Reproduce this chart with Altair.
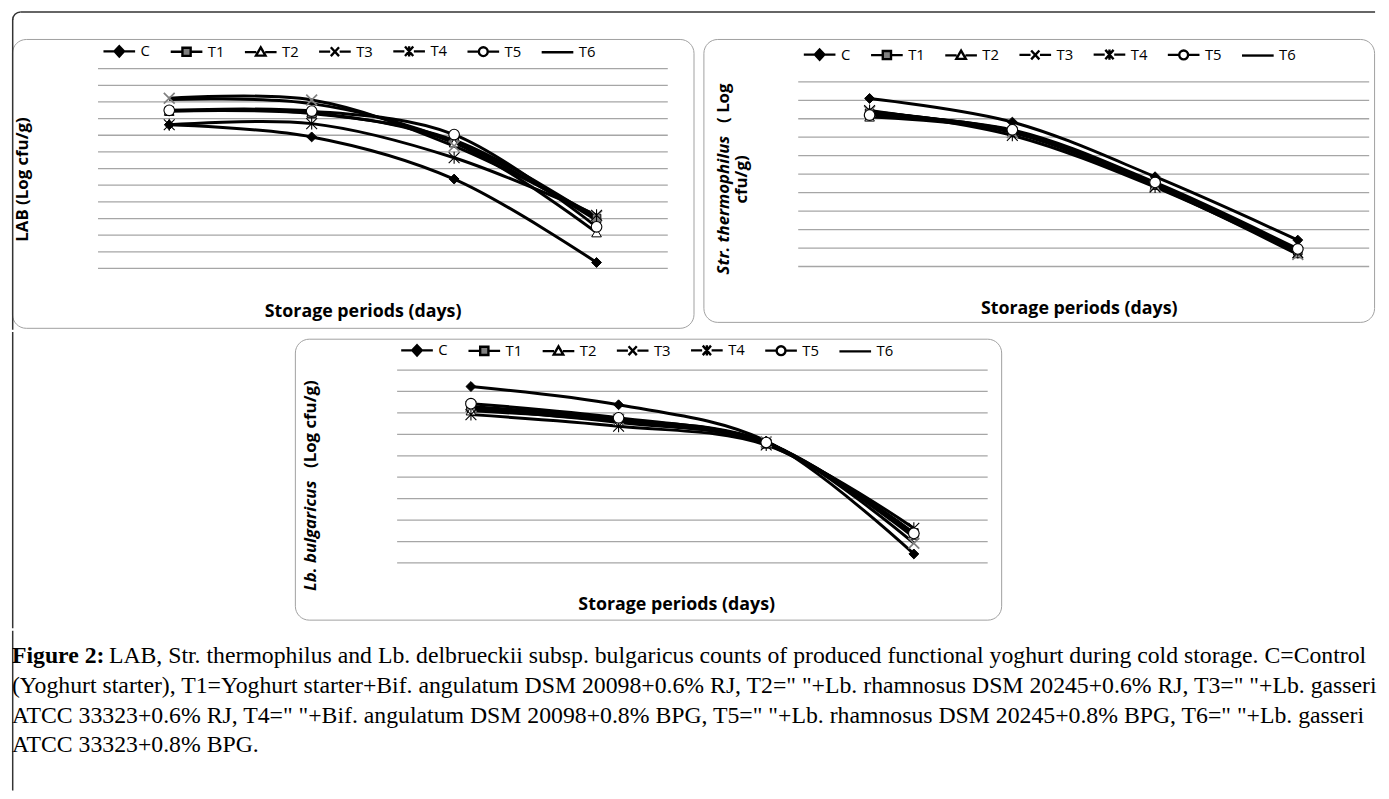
import altair as alt
import pandas as pd

# ---------------- data (gridline units) ----------------
days = [1, 2, 3, 4]                      # storage periods (no tick labels shown)
series = ["C", "T1", "T2", "T3", "T4", "T5", "T6"]

lab_C  = [8.63, 7.90, 5.37, 0.36]
lab_T1 = [9.45, 9.30, 7.70, 3.00]
lab_T2 = [9.45, 9.35, 7.55, 2.15]
lab_T3 = [10.22, 10.12, 7.35, 3.15]
lab_T4 = [8.63, 8.70, 6.65, 3.20]
lab_T5 = [9.50, 9.45, 8.04, 2.50]
lab_T6 = [10.15, 9.90, 7.60, 2.90]

sth_C  = [9.10, 7.82, 4.86, 1.43]
sth_T1 = [8.30, 7.35, 4.45, 0.85]
sth_T2 = [8.10, 7.30, 4.40, 0.70]
sth_T3 = [8.40, 7.25, 4.35, 0.65]
sth_T4 = [8.45, 7.10, 4.30, 0.75]
sth_T5 = [8.20, 7.40, 4.55, 0.95]
sth_T6 = [8.35, 7.30, 4.40, 0.80]

lbb_C  = [8.23, 7.38, 5.69, 0.42]
lbb_T1 = [7.25, 6.65, 5.60, 1.40]
lbb_T2 = [7.10, 6.60, 5.55, 1.30]
lbb_T3 = [7.30, 6.70, 5.65, 0.92]
lbb_T4 = [6.92, 6.38, 5.50, 1.62]
lbb_T5 = [7.43, 6.77, 5.62, 1.38]
lbb_T6 = [7.20, 6.55, 5.58, 1.20]

lab_grid = list(range(0, 13))
sth_grid = list(range(0, 11))
lbb_grid = list(range(0, 10))

x_title = "Storage periods (days)"
lab_ytitle = "LAB (Log cfu/g)"
sth_ytitle_it = "Str. thermophilus"
sth_ytitle_a = "( Log"
sth_ytitle_b = "cfu/g)"
lbb_ytitle_it = "Lb. bulgaricus"
lbb_ytitle_b = "(Log cfu/g)"

fig_label = "Figure 2:"
caption_lines = [
    "LAB, Str. thermophilus and Lb. delbrueckii subsp. bulgaricus counts of produced functional yoghurt during cold storage. C=Control",
    '(Yoghurt starter), T1=Yoghurt starter+Bif. angulatum DSM 20098+0.6% RJ, T2=" "+Lb. rhamnosus DSM 20245+0.6% RJ, T3=" "+Lb. gasseri',
    'ATCC 33323+0.6% RJ, T4=" "+Bif. angulatum DSM 20098+0.8% BPG, T5=" "+Lb. rhamnosus DSM 20245+0.8% BPG, T6=" "+Lb. gasseri',
    "ATCC 33323+0.8% BPG.",
]

# ---------------- styles ----------------
FONT = "Open Sans"
SERIF = "Liberation Serif"
CAP_SIZE = 24
GRID = "#a6a6a6"
BOX = "#a0a0a0"
FRAME = "#333333"
TOTAL_W = 1377

XPATH = "M-1,-1L1,1M-1,1L1,-1"
STARPATH = "M-1,-1L1,1M-1,1L1,-1M0,-1.1L0,1.1"
CORNER = "M-1,1A2,2 0 0 1 1,-1"
MARK = {
    "C":  dict(shape="diamond", filled=True, fill="black", stroke="black", strokeWidth=1, size=100),
    "T1": dict(shape="square", filled=True, fill="#7f7f7f", stroke="black", strokeWidth=1, size=75),
    "T2": dict(shape="triangle-up", filled=True, fill="white", stroke="black", strokeWidth=1, size=95),
    "T3": dict(shape=XPATH, filled=False, stroke="#808080", strokeWidth=1.7, size=120),
    "T4": dict(shape=STARPATH, filled=False, stroke="black", strokeWidth=1.1, size=120),
    "T5": dict(shape="circle", filled=True, fill="white", stroke="black", strokeWidth=1.1, size=115),
    "T6": None,
}
LEG_PATHS = [
    "M-1,0L1,0M0,-0.32L0.3,0L0,0.32L-0.3,0Z",
    "M-1,0L-0.26,0M0.26,0L1,0M-0.26,-0.26L0.26,-0.26L0.26,0.26L-0.26,0.26Z",
    "M-1,0L-0.28,0M0.28,0L1,0M0,-0.3L0.3,0.22L-0.3,0.22Z",
    "M-1,0L-0.3,0M0.3,0L1,0M-0.26,-0.28L0.26,0.28M-0.26,0.28L0.26,-0.28",
    "M-1,0L-0.3,0M0.3,0L1,0M-0.26,-0.3L0.26,0.3M-0.26,0.3L0.26,-0.3M0,-0.32L0,0.32",
    "M-1,0L-0.28,0M0.28,0L1,0M0.28,0A0.28,0.28 0 1,1 -0.28,0A0.28,0.28 0 1,1 0.28,0Z",
    "M-1,0L1,0",
]
LEG_FILLS = ["black", "#7f7f7f", "white", "#cccccc", "white", "white", "black"]
LEG_STROKES = ["black"] * 7

one = pd.DataFrame({"k": [0]})


def vrule(y1, y2):
    # a piece of the outer frame's left edge
    return alt.Chart(one).mark_rule(color=FRAME, strokeWidth=1.5, strokeCap="square").encode(
        x=alt.value(0.75), y=alt.value(y1), y2=alt.value(y2))


def text_layer(t, x, y, angle=0, italic=False, align="center", size=17, weight="bold"):
    return alt.Chart(pd.DataFrame({"t": [t]})).mark_text(
        font=FONT, fontSize=size, fontWeight=weight,
        fontStyle="italic" if italic else "normal",
        angle=angle, align=align, baseline="middle", color="black",
    ).encode(x=alt.value(x), y=alt.value(y), text="t:N")


def frame_top_layers(bottom):
    r = 8
    top = -27.25
    return [
        alt.Chart(one).mark_rule(color=FRAME, strokeWidth=1.5).encode(
            x=alt.value(0.75 + r), x2=alt.value(TOTAL_W + 1), y=alt.value(top)),
        vrule(top + r, bottom),
        alt.Chart(one).mark_point(shape=CORNER, filled=False, stroke=FRAME, strokeWidth=1.5,
                                  size=r * r, opacity=1).encode(
            x=alt.value(0.75 + r / 2), y=alt.value(top + r / 2)),
    ]


def panel(vals, grid, xdom, ydom, w, h, lx, ly, titles, extra=None):
    df = pd.DataFrame([
        {"day": d, "series": s, "value": v}
        for s, arr in zip(series, vals) for d, v in zip(days, arr)
    ])
    xs = alt.Scale(domain=xdom, nice=False, zero=False)
    ys = alt.Scale(domain=ydom, nice=False, zero=False)
    X = alt.X("day:Q", scale=xs, axis=None)
    Y = alt.Y("value:Q", scale=ys, axis=None)

    layers = list(extra or [])
    layers += [
        alt.Chart(pd.DataFrame({"value": grid})).mark_rule(color=GRID, strokeWidth=1.3).encode(
            y=Y,
            x=alt.XDatum(days[0] - 0.5, type="quantitative", scale=xs, axis=None),
            x2=alt.X2Datum(days[-1] + 0.5),
        ),
        alt.Chart(df).mark_line(interpolate="catmull-rom", color="black", strokeWidth=3).encode(
            x=X, y=Y, detail="series:N"
        ),
    ]
    for s in series:
        st = MARK[s]
        if st is None:
            continue
        layers.append(
            alt.Chart(df).transform_filter(alt.datum.series == s)
            .mark_point(opacity=1, **st).encode(x=X, y=Y)
        )
    leg = alt.Legend(
        orient="none", legendX=lx, legendY=ly, direction="horizontal", columns=7,
        title=None, symbolSize=1024, symbolStrokeWidth=2.4, symbolStrokeColor="black",
        labelFont=FONT, labelFontSize=15, labelColor="black", columnPadding=15,
        labelOffset=4, padding=0,
    )
    layers.append(
        alt.Chart(df).transform_filter("false")
        .mark_point(opacity=1, strokeWidth=2.4)
        .encode(
            shape=alt.Shape("series:N", scale=alt.Scale(domain=series, range=LEG_PATHS), legend=leg),
            fill=alt.Fill("series:N", scale=alt.Scale(domain=series, range=LEG_FILLS), legend=leg),
            stroke=alt.Stroke("series:N", scale=alt.Scale(domain=series, range=LEG_STROKES), legend=leg),
        )
    )
    for tl in titles:
        layers.append(text_layer(*tl[:3], **tl[3]))
    return alt.layer(*layers).properties(
        width=w, height=h,
        view=alt.ViewBackground(stroke=BOX, strokeWidth=1, cornerRadius=14, fill="white"),
    )


p1 = panel(
    [lab_C, lab_T1, lab_T2, lab_T3, lab_T4, lab_T5, lab_T6], lab_grid,
    [-0.1042, 4.6806], [-3.564, 13.782], 689, 292, 91, -5.3,
    [
        (lab_ytitle, 11, 142, dict(angle=270)),
        (x_title, 355, 276, dict(size=18)),
    ],
    extra=frame_top_layers(293.25),
)
p2 = panel(
    [sth_C, sth_T1, sth_T2, sth_T3, sth_T4, sth_T5, sth_T6], sth_grid,
    [-0.1642, 4.5343], [-3.0, 12.32], 678, 286, 100, -2,
    [
        (sth_ytitle_it, 20.5, 238, dict(angle=270, italic=True, align="left")),
        (sth_ytitle_a, 20.5, 45, dict(angle=270, align="right")),
        (sth_ytitle_b, 39, 142, dict(angle=270)),
        (x_title, 380, 273, dict(size=18)),
    ],
)
p3 = panel(
    [lbb_C, lbb_T1, lbb_T2, lbb_T3, lbb_T4, lbb_T5, lbb_T6], lbb_grid,
    [-0.1926, 4.5913], [-2.644, 10.462], 714, 284, 106, -6,
    [
        (lbb_ytitle_it, 16.5, 255, dict(angle=270, italic=True, align="left")),
        (lbb_ytitle_b, 16.5, 42, dict(angle=270, align="right")),
        (x_title, 386, 269, dict(size=18)),
    ],
)

spacer = vrule(-6, 292).properties(width=1, height=1)

# caption
cap_df = pd.DataFrame({"line": list(range(len(caption_lines))), "t": caption_lines})
ycap = alt.Y("line:Q", scale=alt.Scale(domain=[-1.0667, 3.4], reverse=True, nice=False, zero=False), axis=None)
cap_first = alt.Chart(cap_df).transform_filter(alt.datum.line == 0).mark_text(
    font=SERIF, fontSize=CAP_SIZE, align="left", baseline="alphabetic", color="black", dx=98
).encode(x=alt.value(0), y=ycap, text="t:N")
cap_rest = alt.Chart(cap_df).transform_filter(alt.datum.line > 0).mark_text(
    font=SERIF, fontSize=CAP_SIZE, align="left", baseline="alphabetic", color="black"
).encode(x=alt.value(0), y=ycap, text="t:N")
cap_label = alt.Chart(pd.DataFrame({"line": [0], "t": [fig_label]})).mark_text(
    font=SERIF, fontSize=CAP_SIZE, fontWeight="bold", align="left", baseline="alphabetic", color="black"
).encode(x=alt.value(0), y=ycap, text="t:N")
caption = alt.layer(vrule(0, 160), cap_label, cap_first, cap_rest).properties(width=TOTAL_W, height=134)

IND = dict(shape="independent", fill="independent", stroke="independent")

row1 = alt.hconcat(p1, p2, spacing=10, bounds="flush").resolve_scale(**IND).resolve_legend(**IND)
row2 = alt.hconcat(spacer, p3, spacing=285, bounds="flush").resolve_scale(**IND).resolve_legend(**IND)
chart = alt.vconcat(row1, row2, caption, spacing=0).resolve_scale(**IND).resolve_legend(**IND).properties(
    padding={"left": 1, "top": -4, "right": 2, "bottom": 2}
).configure_view(stroke="transparent")

chart.save("out.html", embed_options={"renderer": "svg", "actions": False})
